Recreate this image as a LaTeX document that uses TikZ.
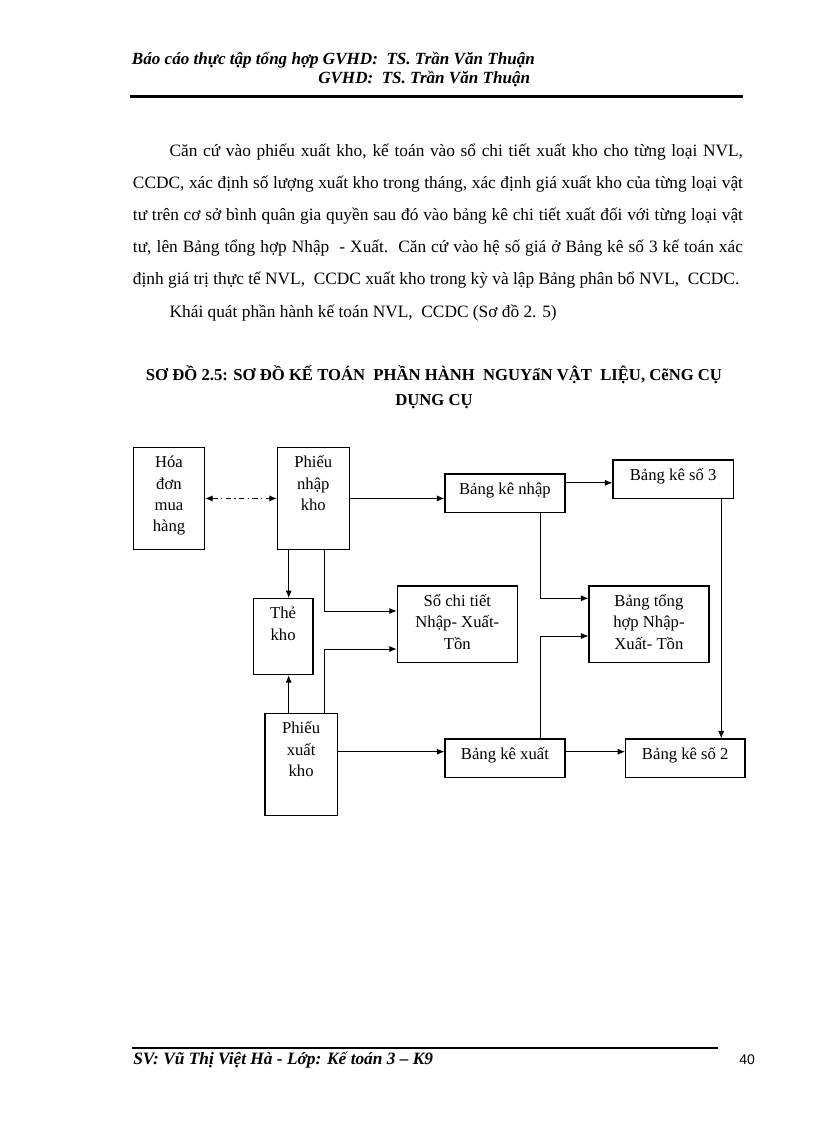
\documentclass[tikz,border=0pt]{standalone}
\usepackage{fontspec}
\setmainfont{Liberation Serif}
\newfontfamily\sansfnt{Liberation Sans}
\usetikzlibrary{calc, arrows.meta}

\tikzset{
	hop/.style={draw, line width=0.9pt, inner sep=0pt, anchor=north west},
	chu/.style={anchor=base, align=center, inner sep=0pt, font=\fontsize{12.5}{16}\selectfont},
	muiten/.style={-{Latex[length=5.5pt,width=4.5pt]}, line width=0.6pt},
	haichieu/.style={{Latex[length=5.5pt,width=4.5pt]}-{Latex[length=5.5pt,width=4.5pt]}, line width=0.6pt, dash pattern=on 4pt off 2.5pt on 1pt off 2.5pt},
}

\begin{document}
\begin{tikzpicture}[x=0.75pt, y=-0.75pt]
		\useasboundingbox (0,0) rectangle (816,1123); %trang
		% dau trang
		\node[anchor=base west, inner sep=0pt, font=\fontsize{12.8}{16}\selectfont\bfseries\itshape] (dau1) at (131.7,65) {Báo cáo thực tập tổng hợp GVHD:\ \ TS. Trần Văn Thuận};
		\node[anchor=base west, inner sep=0pt, font=\fontsize{12.8}{16}\selectfont\bfseries\itshape] (dau2) at (318,83.3) {GVHD:\ \ TS. Trần Văn Thuận};
		\draw[line width=1.9pt] (130,96.7) -- (742.7,96.7); %ke tren
		% doan van
		\node[anchor=base west, inner sep=0pt, text width=457.5pt, align=justify, font=\fontsize{13}{24}\selectfont] (doan) at (132.7,157) {\hspace*{27.5pt}Căn cứ vào phiếu xuất kho, kế toán vào sổ chi tiết xuất kho cho từng loại NVL,\linebreak CCDC, xác định số lượng xuất kho trong tháng, xác định giá xuất kho của từng loại vật\linebreak tư trên cơ sở bình quân gia quyền sau đó vào bảng kê chi tiết xuất đối với từng loại vật\linebreak tư, lên Bảng tổng hợp Nhập\ \ - Xuất.\ \ Căn cứ vào hệ số giá ở Bảng kê số 3 kế toán xác\linebreak định giá trị thực tế NVL,\ \ CCDC xuất kho trong kỳ và lập Bảng phân bổ NVL,\ \ CCDC.\par
		\hspace*{27.5pt}Khái quát phần hành kế toán NVL,\ \ CCDC (Sơ đồ 2. 5)};
		% ten so do (base = dong cuoi)
		\node[anchor=base, inner sep=0pt, align=center, font=\fontsize{12.5}{18.75}\selectfont\bfseries] (ten) at (434,405) {SƠ ĐỒ 2.5: SƠ ĐỒ KẾ TOÁN\ \ PHẦN HÀNH\ \ NGUYẩN VẬT\ \ LIỆU, CẽNG CỤ\\DỤNG CỤ};
		% cac hop
		\node[hop, minimum width=53.5pt, minimum height=76.7pt] (hoadon) at (132.7,446.7) {};
		\node[hop, minimum width=54pt, minimum height=76.7pt] (pnk) at (276.7,446.7) {};
		\node[hop, minimum width=44.7pt, minimum height=57pt] (tk) at (252.7,598) {};
		\node[hop, minimum width=54.3pt, minimum height=76.7pt] (pxk) at (264.3,712.7) {};
		\node[hop, minimum width=90pt, minimum height=57.3pt] (sct) at (396.7,585.3) {};
		\node[hop, minimum width=90pt, minimum height=57.3pt] (bth) at (588.3,585.3) {};
		\node[hop, minimum width=90pt, minimum height=28.8pt] (bkn) at (444.3,473.3) {};
		\node[hop, minimum width=90.3pt, minimum height=28.8pt] (bk3) at (612.3,459.3) {};
		\node[hop, minimum width=90pt, minimum height=28.8pt] (bkx) at (444.3,738.3) {};
		\node[hop, minimum width=89.5pt, minimum height=28.8pt] (bk2) at (625,738.3) {};
		% chu trong hop (base = dong cuoi)
		\node[chu] (hoadonchu) at ($(hoadon.north)+(0,85)$) {Hóa\\đơn\\mua\\hàng};
		\node[chu] (pnkchu) at ($(pnk.north)+(0,63.7)$) {Phiếu\\nhập\\kho};
		\node[chu] (tkchu) at ($(tk.north)+(0,42.3)$) {Thẻ\\kho};
		\node[chu] (pxkchu) at ($(pxk.north)+(0,63.7)$) {Phiếu\\xuất\\kho};
		\node[chu] (sctchu) at ($(sct.north)+(0,63.7)$) {Sổ chi tiết\\Nhập- Xuất-\\Tồn};
		\node[chu] (bthchu) at ($(bth.north)+(0,63.7)$) {Bảng tổng\\hợp Nhập-\\Xuất- Tồn};
		\node[chu] (bknchu) at ($(bkn.north)+(0,21)$) {Bảng kê nhập};
		\node[chu] (bk3chu) at ($(bk3.north)+(0,21)$) {Bảng kê số 3};
		\node[chu] (bkxchu) at ($(bkx.north)+(0,21)$) {Bảng kê xuất};
		\node[chu] (bk2chu) at ($(bk2.north)+(0,21)$) {Bảng kê số 2};
		% diem noi
		\coordinate (bknA) at ($(bkn.north east)+(0,9.5)$);
		\coordinate (pnkA) at ($(pnk.south west)+(12,0)$);
		\coordinate (pnkB) at ($(pnk.south west)+(47.6,0)$);
		\coordinate (sctA) at ($(sct.north west)+(0,25.7)$);
		\coordinate (pxkA) at ($(pxk.north west)+(24.4,0)$);
		\coordinate (pxkB) at ($(pxk.north west)+(60,0)$);
		\coordinate (sctB) at ($(sct.north west)+(0,63.7)$);
		\coordinate (pxkC) at ($(pxk.north east)+(0,39)$);
		\coordinate (bknB) at ($(bkn.south west)+(96.4,0)$);
		\coordinate (bthA) at ($(bth.north west)+(0,13)$);
		\coordinate (bkxA) at ($(bkx.north west)+(96.4,0)$);
		\coordinate (bthB) at ($(bth.north west)+(0,50.7)$);
		\coordinate (bk3A) at ($(bk3.south east)+(-12.7,0)$);
		\coordinate (bkxB) at ($(bkx.north east)+(0,13.4)$);
		% mui ten
		\draw[haichieu] (hoadon) -- (pnk); %hai chieu
		\draw[muiten] (pnk.east) -- (pnk.east -| bkn.west);
		\draw[muiten] (bknA) -- (bknA -| bk3.west);
		\draw[muiten] (pnkA) -- (pnkA |- tk.north);
		\draw[muiten] (pnkB) |- (sctA);
		\draw[muiten] (pxkA) -- (pxkA |- tk.south);
		\draw[muiten] (pxkB) |- (sctB);
		\draw[muiten] (pxkC) -- (pxkC -| bkx.west);
		\draw[muiten] (bknB) |- (bthA);
		\draw[muiten] (bkxA) |- (bthB);
		\draw[muiten] (bk3A) -- (bk3A |- bk2.north);
		\draw[muiten] (bkxB) -- (bkxB -| bk2.west);
		% chan trang
		\draw[line width=1.5pt] (132,1048.3) -- (718.3,1048.3); %ke duoi
		\node[anchor=base west, inner sep=0pt, font=\fontsize{13}{16}\selectfont\bfseries\itshape] (chan) at (133,1064.3) {SV: Vũ Thị Việt Hà - Lớp: Kế toán 3 – K9};
		\node[anchor=base west, inner sep=0pt, font=\fontsize{10.5}{12}\selectfont\sansfnt] (trang) at (739,1064.3) {40};
	\end{tikzpicture}
\end{document}
